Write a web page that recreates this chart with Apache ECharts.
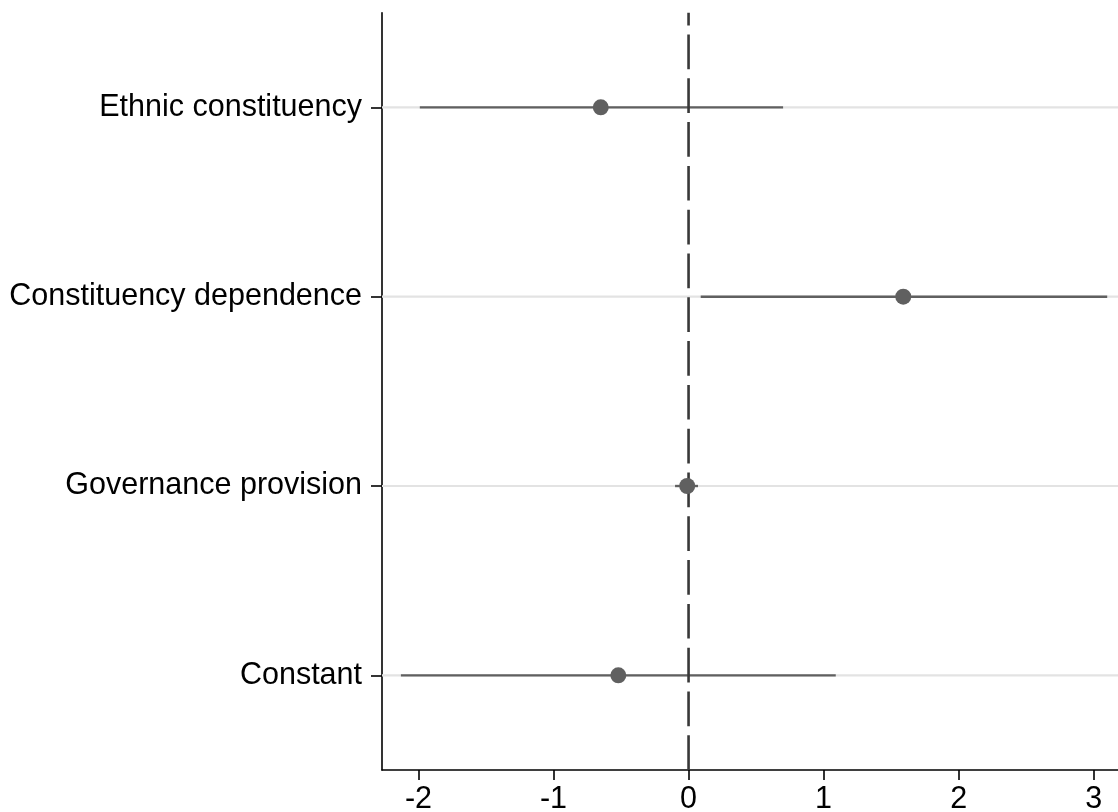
<!DOCTYPE html>
<html>
<head>
<meta charset="utf-8">
<script src="https://cdn.jsdelivr.net/npm/echarts@6/dist/echarts.min.js"></script>
<style>
html,body{margin:0;padding:0;background:#fff;}
#chart{width:1118px;height:812px;}
</style>
</head>
<body>
<div id="chart"></div>
<script>
const categories = ['Ethnic constituency', 'Constituency dependence', 'Governance provision', 'Constant'];
const estimates = [-0.65, 1.59, -0.01, -0.52];
const lower = [-1.99, 0.09, -0.10, -2.13];
const upper = [0.70, 3.10, 0.07, 1.09];
const xTicks = [-2, -1, 0, 1, 2, 3];
const refValue = [0];
const xMin = -2.27;
const xMax = 3.18;

const ciData = categories.map((c, i) => [lower[i], upper[i], c]);
const pointData = categories.map((c, i) => [estimates[i], c]);

const chart = echarts.init(document.getElementById('chart'), null, {renderer: 'canvas'});
const font = "'Liberation Sans', Arial, Helvetica, sans-serif";

chart.setOption({
  animation: false,
  backgroundColor: '#ffffff',
  grid: {left: 382, right: 0, top: 12.7, bottom: 42, containLabel: false, outerBoundsMode: 'none'},
  xAxis: {
    type: 'value',
    min: xMin,
    max: xMax,
    axisLine: {show: true, onZero: false, lineStyle: {color: '#000', width: 1.6}},
    axisTick: {show: true, length: 10, customValues: xTicks, lineStyle: {color: '#000', width: 1.6}},
    axisLabel: {customValues: xTicks, margin: 14, color: '#000', fontSize: 30.5, fontFamily: font},
    splitLine: {show: false}
  },
  yAxis: {
    type: 'category',
    data: categories,
    inverse: true,
    boundaryGap: true,
    axisLine: {show: true, onZero: false, lineStyle: {color: '#000', width: 1.6}},
    axisTick: {show: true, alignWithLabel: true, length: 11, lineStyle: {color: '#000', width: 1.6}},
    axisLabel: {margin: 20, color: '#000', fontSize: 30.5, fontFamily: font},
    splitLine: {show: false}
  },
  series: [
    {
      type: 'custom',
      z: 2,
      dimensions: ['low', 'high', 'cat'],
      data: ciData,
      encode: {x: ['low', 'high'], y: 'cat'},
      renderItem: function (params, api) {
        const lo = api.coord([api.value(0), api.value(2)]);
        const hi = api.coord([api.value(1), api.value(2)]);
        const cs = params.coordSys;
        return {
          type: 'group',
          children: [
            {type: 'line', shape: {x1: cs.x, y1: lo[1], x2: cs.x + cs.width, y2: lo[1]},
             style: {stroke: '#e3e3e3', lineWidth: 2.2}, z2: 1},
            {type: 'line', shape: {x1: lo[0], y1: lo[1], x2: hi[0], y2: hi[1]},
             style: {stroke: '#606060', lineWidth: 2.4}, z2: 2}
          ]
        };
      }
    },
    {
      type: 'custom',
      z: 5,
      data: refValue.map(v => [v, categories[0]]),
      encode: {x: 0, y: 1},
      renderItem: function (params, api) {
        const p = api.coord([api.value(0), api.value(1)]);
        const cs = params.coordSys;
        return {
          type: 'line',
          shape: {x1: p[0], y1: cs.y + cs.height, x2: p[0], y2: cs.y},
          style: {stroke: '#383838', lineWidth: 2.6, lineDash: [34.7, 9.1]}
        };
      }
    },
    {
      type: 'scatter',
      z: 10,
      data: pointData,
      symbol: 'circle',
      symbolSize: 16,
      itemStyle: {color: '#606060', opacity: 1}
    }
  ]
});
</script>
</body>
</html>
